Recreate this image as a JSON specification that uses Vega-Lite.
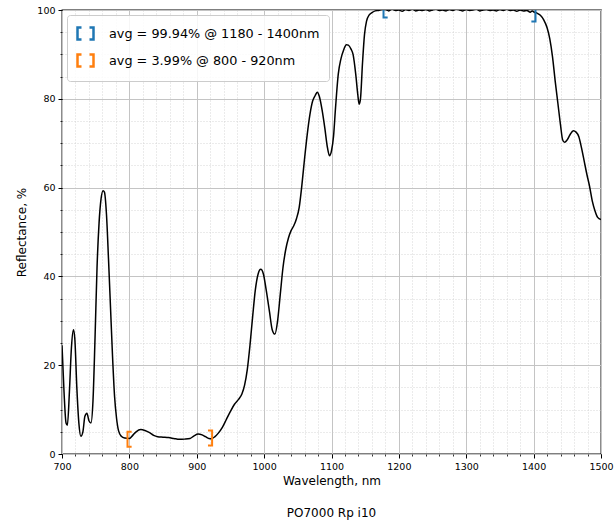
{
  "$schema": "https://vega.github.io/schema/vega-lite/v6.json",
  "width": 539,
  "height": 444,
  "autosize": {"type": "none"},
  "padding": {"left": 62, "top": 10, "right": 15, "bottom": 69},
  "title": {"text": "PO7000 Rp i10", "orient": "bottom", "anchor": "middle", "fontSize": 12, "fontWeight": "normal", "font": "DejaVu Sans", "color": "#000", "offset": 21},
  "config": {
    "view": {"stroke": "#000", "strokeWidth": 1.3},
    "font": "DejaVu Sans",
    "axis": {"labelFont": "DejaVu Sans", "titleFont": "DejaVu Sans", "labelColor": "#000", "titleColor": "#000", "tickColor": "#000", "titleFontWeight": "normal", "domain": false}
  },
  "datasets": {
    "spectrum": [
      {"wl": 700, "r": 24.5}, {"wl": 703, "r": 14}, {"wl": 706, "r": 7}, {"wl": 708, "r": 6.5}, {"wl": 711, "r": 14},
      {"wl": 714, "r": 24}, {"wl": 717, "r": 28}, {"wl": 719, "r": 26}, {"wl": 722, "r": 15}, {"wl": 725, "r": 7},
      {"wl": 728, "r": 4}, {"wl": 731, "r": 5}, {"wl": 734, "r": 8.5}, {"wl": 737, "r": 9.2}, {"wl": 740, "r": 7.5},
      {"wl": 743, "r": 7}, {"wl": 746, "r": 12}, {"wl": 749, "r": 26}, {"wl": 752, "r": 42}, {"wl": 755, "r": 52},
      {"wl": 758, "r": 57.5}, {"wl": 761, "r": 59.3}, {"wl": 763, "r": 59}, {"wl": 766, "r": 54}, {"wl": 769, "r": 44},
      {"wl": 772, "r": 33}, {"wl": 775, "r": 22}, {"wl": 778, "r": 13}, {"wl": 781, "r": 8}, {"wl": 784, "r": 5.2},
      {"wl": 788, "r": 4}, {"wl": 793, "r": 3.6}, {"wl": 800, "r": 3.5}, {"wl": 805, "r": 4.2}, {"wl": 810, "r": 5},
      {"wl": 817, "r": 5.5}, {"wl": 823, "r": 5.3}, {"wl": 830, "r": 4.8}, {"wl": 836, "r": 4.2}, {"wl": 842, "r": 3.9},
      {"wl": 850, "r": 3.8}, {"wl": 858, "r": 3.7}, {"wl": 866, "r": 3.5}, {"wl": 874, "r": 3.3}, {"wl": 882, "r": 3.35},
      {"wl": 890, "r": 3.5}, {"wl": 896, "r": 4.1}, {"wl": 902, "r": 4.5}, {"wl": 908, "r": 4.3}, {"wl": 913, "r": 3.9},
      {"wl": 918, "r": 3.5}, {"wl": 922, "r": 3.45}, {"wl": 927, "r": 3.9}, {"wl": 932, "r": 4.7}, {"wl": 938, "r": 6},
      {"wl": 944, "r": 7.8}, {"wl": 950, "r": 9.6}, {"wl": 956, "r": 11.2}, {"wl": 962, "r": 12.3}, {"wl": 967, "r": 13.5},
      {"wl": 971, "r": 15.5}, {"wl": 975, "r": 19}, {"wl": 979, "r": 24.5}, {"wl": 983, "r": 31}, {"wl": 987, "r": 37},
      {"wl": 991, "r": 40.5}, {"wl": 995, "r": 41.6}, {"wl": 999, "r": 40.5}, {"wl": 1003, "r": 37}, {"wl": 1008, "r": 32},
      {"wl": 1012, "r": 28}, {"wl": 1016, "r": 27}, {"wl": 1020, "r": 30}, {"wl": 1024, "r": 36}, {"wl": 1028, "r": 42},
      {"wl": 1032, "r": 46}, {"wl": 1036, "r": 48.6}, {"wl": 1040, "r": 50.3}, {"wl": 1044, "r": 51.4}, {"wl": 1048, "r": 53},
      {"wl": 1052, "r": 55.5}, {"wl": 1056, "r": 60.5}, {"wl": 1060, "r": 66.5}, {"wl": 1064, "r": 72}, {"wl": 1068, "r": 76.5},
      {"wl": 1072, "r": 79.5}, {"wl": 1076, "r": 80.8}, {"wl": 1079, "r": 81.5}, {"wl": 1082, "r": 80.5}, {"wl": 1086, "r": 77.5},
      {"wl": 1090, "r": 73.5}, {"wl": 1094, "r": 69}, {"wl": 1097, "r": 67.2}, {"wl": 1100, "r": 68.3}, {"wl": 1103, "r": 71.5},
      {"wl": 1106, "r": 78}, {"wl": 1110, "r": 85.5}, {"wl": 1114, "r": 89}, {"wl": 1118, "r": 91}, {"wl": 1122, "r": 92.2},
      {"wl": 1125, "r": 92.1}, {"wl": 1129, "r": 91.2}, {"wl": 1132, "r": 90}, {"wl": 1136, "r": 85.5}, {"wl": 1139, "r": 81},
      {"wl": 1141, "r": 78.8}, {"wl": 1143, "r": 80}, {"wl": 1146, "r": 88}, {"wl": 1149, "r": 94.5}, {"wl": 1152, "r": 97.5},
      {"wl": 1156, "r": 98.9}, {"wl": 1160, "r": 99.4}, {"wl": 1165, "r": 99.8}, {"wl": 1170, "r": 99.9}, {"wl": 1175, "r": 100.1},
      {"wl": 1180, "r": 100.1}, {"wl": 1185, "r": 99.8}, {"wl": 1190, "r": 100.2}, {"wl": 1195, "r": 99.9}, {"wl": 1200, "r": 100.0},
      {"wl": 1205, "r": 99.7}, {"wl": 1210, "r": 100.1}, {"wl": 1215, "r": 99.9}, {"wl": 1220, "r": 100.2}, {"wl": 1225, "r": 99.8},
      {"wl": 1230, "r": 100.0}, {"wl": 1235, "r": 99.9}, {"wl": 1240, "r": 100.1}, {"wl": 1245, "r": 99.8}, {"wl": 1250, "r": 100.0},
      {"wl": 1255, "r": 100.2}, {"wl": 1260, "r": 99.9}, {"wl": 1265, "r": 100.0}, {"wl": 1270, "r": 99.8}, {"wl": 1275, "r": 100.1},
      {"wl": 1280, "r": 99.9}, {"wl": 1285, "r": 100.2}, {"wl": 1290, "r": 100.0}, {"wl": 1295, "r": 99.8}, {"wl": 1300, "r": 100.1},
      {"wl": 1305, "r": 99.9}, {"wl": 1310, "r": 100.0}, {"wl": 1315, "r": 100.2}, {"wl": 1320, "r": 99.8}, {"wl": 1325, "r": 100.0},
      {"wl": 1330, "r": 100.1}, {"wl": 1335, "r": 99.9}, {"wl": 1340, "r": 100.0}, {"wl": 1345, "r": 99.8}, {"wl": 1350, "r": 100.1},
      {"wl": 1355, "r": 99.9}, {"wl": 1360, "r": 100.2}, {"wl": 1365, "r": 99.9}, {"wl": 1370, "r": 100.0}, {"wl": 1375, "r": 99.7},
      {"wl": 1380, "r": 100.0}, {"wl": 1385, "r": 99.8}, {"wl": 1390, "r": 99.9}, {"wl": 1395, "r": 99.5}, {"wl": 1398, "r": 99.8},
      {"wl": 1400, "r": 99.6}, {"wl": 1405, "r": 99.3}, {"wl": 1410, "r": 98.8}, {"wl": 1415, "r": 97.8}, {"wl": 1420, "r": 96},
      {"wl": 1424, "r": 93.5}, {"wl": 1428, "r": 89.5}, {"wl": 1432, "r": 84}, {"wl": 1436, "r": 79}, {"wl": 1440, "r": 74},
      {"wl": 1443, "r": 70.8}, {"wl": 1446, "r": 70.2}, {"wl": 1450, "r": 70.8}, {"wl": 1454, "r": 71.9}, {"wl": 1459, "r": 72.8},
      {"wl": 1463, "r": 72.5}, {"wl": 1467, "r": 71.5}, {"wl": 1471, "r": 69}, {"wl": 1475, "r": 66}, {"wl": 1479, "r": 63},
      {"wl": 1483, "r": 60.3}, {"wl": 1487, "r": 57}, {"wl": 1491, "r": 54.8}, {"wl": 1495, "r": 53.3}, {"wl": 1500, "r": 52.8}
    ],
    "brackets": [
      {"wl": 1180, "r": 100.0, "series": "avg = 99.94% @ 1180 - 1400nm", "side": "L"},
      {"wl": 1400, "r": 99.1, "series": "avg = 99.94% @ 1180 - 1400nm", "side": "R"},
      {"wl": 800, "r": 3.3, "series": "avg = 3.99% @ 800 - 920nm", "side": "L"},
      {"wl": 920, "r": 3.6, "series": "avg = 3.99% @ 800 - 920nm", "side": "R"}
    ]
  },
  "layer": [
    {
      "data": {"name": "spectrum"},
      "mark": {"type": "line", "color": "#000", "strokeWidth": 1.5, "interpolate": "monotone", "clip": true},
      "encoding": {
        "x": {"field": "wl", "type": "quantitative", "scale": {"domain": [700, 1500], "nice": false, "zero": false},
          "axis": {"orient": "bottom", "title": null, "labels": false, "domain": false, "tickSize": 2, "tickWidth": 0.8,
            "values": [700,720,740,760,780,800,820,840,860,880,900,920,940,960,980,1000,1020,1040,1060,1080,1100,1120,1140,1160,1180,1200,1220,1240,1260,1280,1300,1320,1340,1360,1380,1400,1420,1440,1460,1480,1500],
            "grid": true, "gridColor": "#cccccc", "gridDash": [1, 2], "gridWidth": 0.8}},
        "y": {"field": "r", "type": "quantitative", "scale": {"domain": [0, 100], "nice": false},
          "axis": {"orient": "left", "title": null, "labels": false, "domain": false, "tickSize": 2, "tickWidth": 0.8,
            "values": [0,5,10,15,20,25,30,35,40,45,50,55,60,65,70,75,80,85,90,95,100],
            "grid": true, "gridColor": "#cccccc", "gridDash": [1, 2], "gridWidth": 0.8}}
      }
    },
    {
      "data": {"name": "brackets"},
      "mark": {"type": "point", "filled": false, "strokeWidth": 2, "size": 225, "opacity": 1, "clip": true},
      "encoding": {
        "x": {"field": "wl", "type": "quantitative",
          "axis": {"orient": "bottom", "title": "Wavelength, nm", "titleFontSize": 12, "titlePadding": 5, "labelFontSize": 9.5, "labelPadding": 3, "tickSize": 4, "tickWidth": 1,
            "values": [700,800,900,1000,1100,1200,1300,1400,1500], "format": "d", "labelFlush": false,
            "grid": true, "gridColor": "#c4c4c4", "gridWidth": 1}},
        "y": {"field": "r", "type": "quantitative",
          "axis": {"orient": "left", "title": "Reflectance, %", "titleFontSize": 12, "titlePadding": 8, "labelFontSize": 9.5, "labelPadding": 3, "tickSize": 4, "tickWidth": 1,
            "values": [0,20,40,60,80,100], "format": "d", "labelFlush": false,
            "grid": true, "gridColor": "#c4c4c4", "gridWidth": 1}},
        "color": {"field": "series", "type": "nominal",
          "scale": {"domain": ["avg = 99.94% @ 1180 - 1400nm", "avg = 3.99% @ 800 - 920nm"], "range": ["#1f77b4", "#ff7f0e"]},
          "legend": {"title": null, "orient": "top-left", "offset": 5, "padding": 9, "fillColor": "rgba(255,255,255,0.85)", "strokeColor": "#cccccc", "cornerRadius": 3,
            "symbolType": "M-0.5,-0.75H-1V0.75H-0.5M0.5,-0.75H1V0.75H0.5", "symbolSize": 256, "symbolStrokeWidth": 2.5, "symbolFillColor": "transparent", "symbolOpacity": 1,
            "labelFontSize": 12.8, "labelColor": "#000", "labelFont": "DejaVu Sans", "labelLimit": 400, "labelOffset": 14, "rowPadding": 4}},
        "shape": {"field": "side", "type": "nominal",
          "scale": {"domain": ["L", "R"], "range": ["M0.3,-1H-0.25V1H0.3", "M-0.3,-1H0.25V1H-0.3"]},
          "legend": null}
      }
    }
  ],
  "resolve": {"axis": {"x": "independent", "y": "independent"}}
}
